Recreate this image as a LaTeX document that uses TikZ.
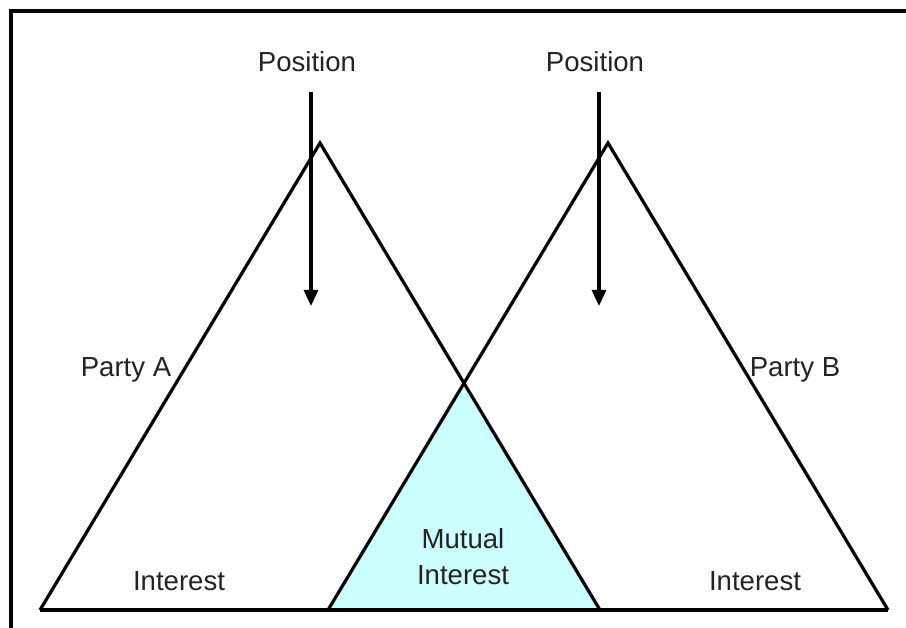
\documentclass[tikz,border=0pt]{standalone}
\usepackage{fontspec}
\setmainfont{Liberation Sans}
\usepackage{xcolor}
\usepackage{tikz}
\usetikzlibrary{arrows.meta,positioning,calc}

\definecolor{mutualcyan}{RGB}{204,255,255}
\definecolor{labelgrey}{RGB}{35,35,35}

\begin{document}
\begin{tikzpicture}[
  x=0.025cm, y=-0.025cm,
  lbl/.style={font=\fontsize{19.6}{25.5}\selectfont, text=labelgrey,
              inner sep=1pt, align=center},
  posn/.style={lbl, inner ysep=0.5cm},
  side/.style={line width=2.3pt, line join=miter},
  arr/.style={-{Triangle[length=4mm, width=3.5mm]}, line width=2.2pt}
]
\useasboundingbox (0,0) rectangle (906,628);
% frame (top and left edges only)
\draw[line width=2.4pt] (11,628) -- (11,11) -- (906,11);

% triangle corners
\coordinate (aTop) at (320,143);
\coordinate (aL) at (40,610);
\coordinate (aR) at (600,610);
\coordinate (bTop) at (608,143);
\coordinate (bL) at (328,610);
\coordinate (bR) at (888,610);
\coordinate (meet) at (intersection of aTop--aR and bTop--bL);

% overlap
\fill[mutualcyan] (meet) -- (bL) -- (aR) -- cycle;

\draw[side] (aL) -- (aTop) -- (aR);
\draw[side] (bL) -- (bTop) -- (bR);
\draw[side] (aL) -- (bR);

% labels
\node[posn] (posA) at (307,62) {Position};
\node[posn] (posB) at (595,62) {Position};
\coordinate (tipA) at (311,306);
\coordinate (tipB) at (599,306);
\draw[arr] (posA.south -| tipA) -- (tipA);
\draw[arr] (posB.south -| tipB) -- (tipB);

\node[lbl] (partyA) at (126,370) {Party A};
\node[lbl] (partyB) at (795,370) {Party B};
\node[lbl] (intA) at (179,581) {Interest};
\node[lbl] (intB) at (755,581) {Interest};
\node[lbl] (mutual) at (463,557) {Mutual\\Interest};
\end{tikzpicture}
\end{document}
